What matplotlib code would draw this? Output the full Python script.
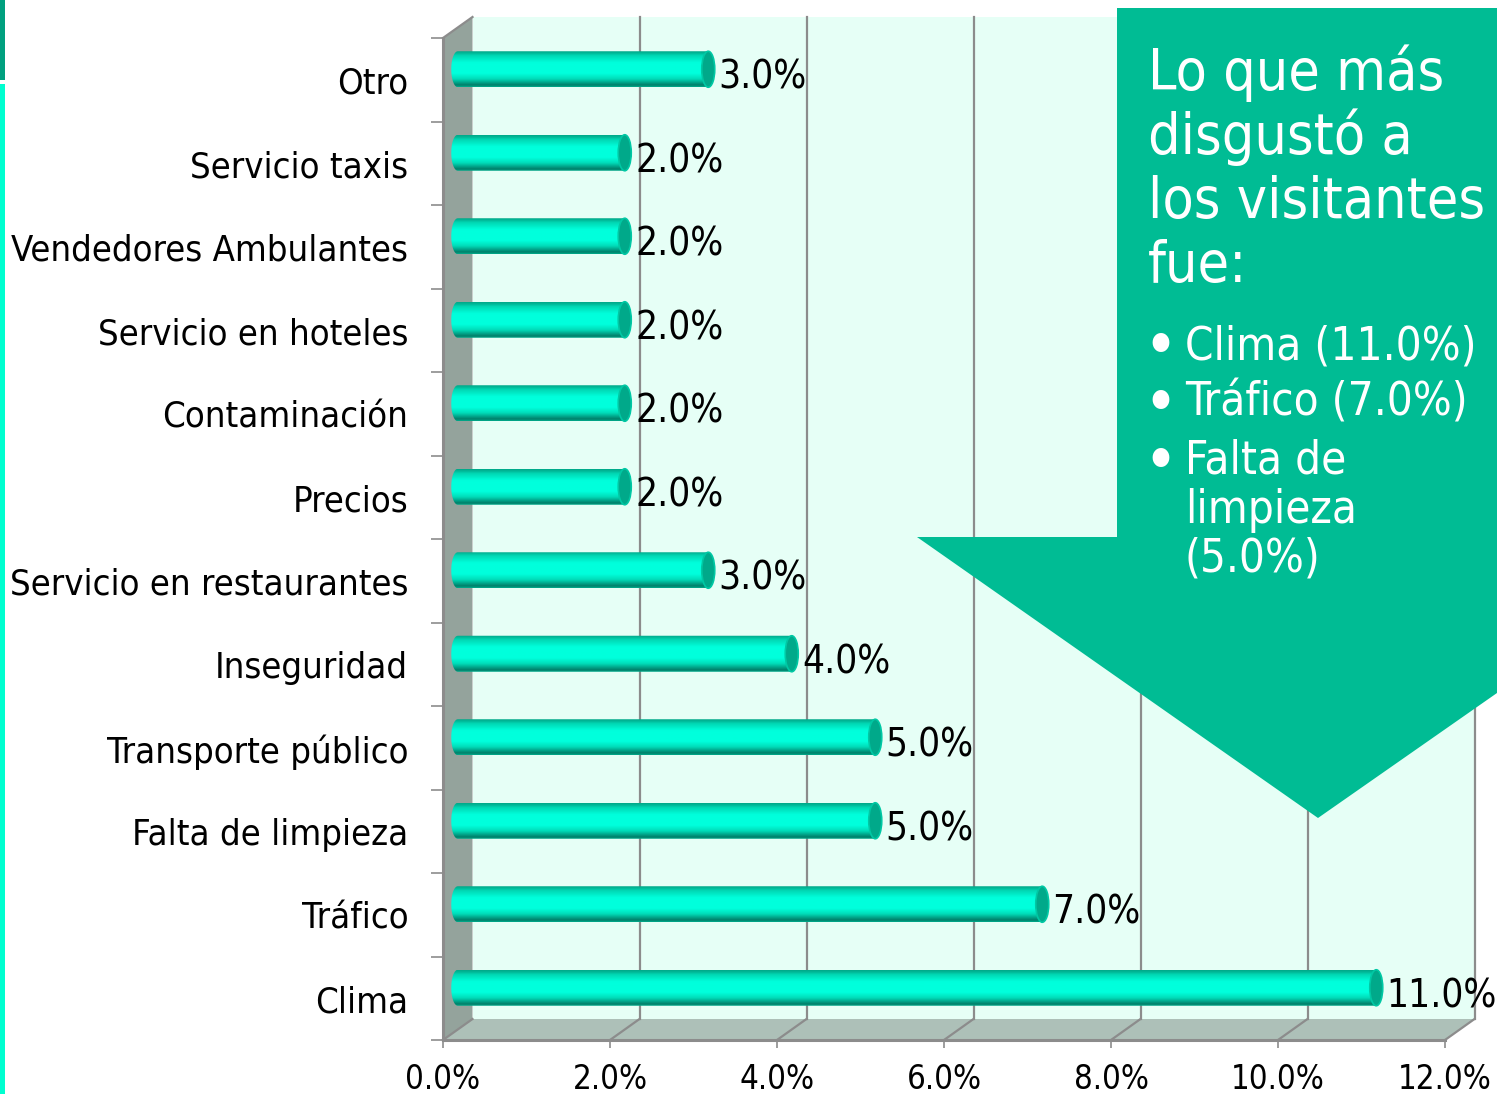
"""
Bar chart: lo que mas disgusto a los visitantes.
"""

import numpy as np
import matplotlib
matplotlib.use("Agg")
import matplotlib.pyplot as plt
from matplotlib.colors import LinearSegmentedColormap
from matplotlib.patches import Ellipse, Polygon, Rectangle
from matplotlib.transforms import Affine2D, IdentityTransform

# Data, bottom to top
categories = ["Clima", "Tráfico", "Falta de limpieza", "Transporte público", "Inseguridad",
              "Servicio en restaurantes", "Precios", "Contaminación", "Servicio en hoteles",
              "Vendedores Ambulantes", "Servicio taxis", "Otro"]
values = [11.0, 7.0, 5.0, 5.0, 4.0, 3.0, 2.0, 2.0, 2.0, 2.0, 2.0, 3.0]
x_ticks = [0, 2, 4, 6, 8, 10, 12]

callout_title = ["Lo que más", "disgustó a", "los visitantes", "fue:"]
callout_items = [["Clima (11.0%)"], ["Tráfico (7.0%)"], ["Falta de", "limpieza", "(5.0%)"]]

W, H = 1497, 1094
DEPTH_X, DEPTH_Y = 29.5, 21
FONT = {"family": "DejaVu Sans", "stretch": "condensed"}
GRID = "#8c8c8c"

fig = plt.figure(figsize=(W / 100, H / 100), dpi=100, facecolor="white")
ax = fig.add_axes([443 / W, (H - 1040) / H, 1002 / W, 1002 / H])
ax.set_xlim(0, 12)
ax.set_ylim(-0.5, 11.5)
ax.patch.set_visible(False)
for spine in ax.spines.values():
    spine.set_visible(False)


def depth(frac, dx=0, dy=0):
    # shift from the front plane towards the back wall, in pixels
    return ax.transData + Affine2D().translate(DEPTH_X * frac + dx, DEPTH_Y * frac + dy)


def px_text(x, y, s, **kw):
    fig.text(x / W, (H - y) / H, s, color="white", va="baseline", **FONT, **kw)


def to_display(x, y):
    return ax.transData.transform((x, y))


# Walls
ymin, ymax = ax.get_ylim()
ax.add_patch(Rectangle((0, ymin), 12, ymax - ymin, transform=depth(1), facecolor="#e6fff6",
                       edgecolor="none", clip_on=False, zorder=1))
left = [to_display(0, ymin), to_display(0, ymax),
        to_display(0, ymax) + (DEPTH_X, DEPTH_Y), to_display(0, ymin) + (DEPTH_X, DEPTH_Y)]
ax.add_patch(Polygon(left, transform=IdentityTransform(), facecolor="#94a39c", edgecolor="none",
                     clip_on=False, zorder=1))
floor = [to_display(0, ymin), to_display(12, ymin),
         to_display(12, ymin) + (DEPTH_X, DEPTH_Y), to_display(0, ymin) + (DEPTH_X, DEPTH_Y)]
ax.add_patch(Polygon(floor, transform=IdentityTransform(), facecolor="#adc0b8", edgecolor="none",
                     clip_on=False, zorder=1))

# Grid lines on back wall and floor
for t in x_ticks:
    if t > 0:
        ax.plot([t, t], [ymin, ymax], color=GRID, lw=1.6, transform=depth(1), clip_on=False, zorder=2)
    ax.plot([t, t + DEPTH_X * 12 / 1002], [ymin, ymin + DEPTH_Y * 12 / 1002], color=GRID, lw=1.6,
            clip_on=False, zorder=2)
ax.plot([0, 0], [ymin, ymax], color=GRID, lw=2.2, clip_on=False, zorder=2)
ax.plot([0, 12], [ymin, ymin], color=GRID, lw=2.2, clip_on=False, zorder=2)
ax.plot([0, DEPTH_X * 12 / 1002], [ymax, ymax + DEPTH_Y * 12 / 1002], color=GRID, lw=1.6,
        clip_on=False, zorder=2)

# Axis ticks and labels
ax.set_xticks(x_ticks)
ax.set_xticklabels([f"{t:.1f}%" for t in x_ticks], fontsize=23.7, **FONT)
ax.tick_params(axis="x", length=6, width=1.2, color=GRID, pad=10.5)
ax.set_yticks(np.arange(-0.5, 12, 1))
ax.set_yticklabels([])
ax.tick_params(axis="y", length=8.5, width=1.2, color=GRID)
ax.set_yticks(range(len(categories)), minor=True)
ax.set_yticklabels(categories, minor=True, fontsize=26.1, va="center", **FONT)
ax.tick_params(axis="y", which="minor", length=0, pad=25)
for lab in ax.get_yticklabels(minor=True):
    lab.set_transform(lab.get_transform() + Affine2D().translate(0, -4))

# Cylinder bars
bar_cmap = LinearSegmentedColormap.from_list("bar", [
    (0.0, "#00a98a"), (0.05, "#00b898"), (0.12, "#00d8b4"), (0.32, "#00ffdc"), (0.62, "#00ffdc"),
    (0.78, "#00dcb8"), (0.9, "#009a80"), (0.95, "#007f69"), (1.0, "#00a98a")])
gradient = np.linspace(0, 1, 64).reshape(-1, 1)
half_h = 18 / (1002 / 12)
cap_w = 6.5 * 12 / 1002
theta = np.linspace(np.pi / 2, 3 * np.pi / 2, 24)

for i, v in enumerate(values):
    tr = depth(0.5)
    left_end = np.column_stack([cap_w * np.cos(theta), i + half_h * np.sin(theta)])
    right_end = np.column_stack([v - cap_w * np.cos(theta), i - half_h * np.sin(theta)])
    outline = Polygon(np.vstack([left_end, right_end]), transform=tr, facecolor="none",
                      edgecolor="none", clip_on=False, zorder=3)
    ax.add_patch(outline)
    im = ax.imshow(gradient, cmap=bar_cmap, vmin=0, vmax=1, aspect="auto", origin="upper",
                   extent=(-cap_w, v + cap_w, i - half_h, i + half_h), transform=tr, zorder=3)
    im.set_clip_path(outline)
    ax.add_patch(Ellipse((v, i), 2 * cap_w, 2 * half_h, transform=tr, facecolor="#00a98a",
                         edgecolor="#00c8a4", lw=1.2, clip_on=False, zorder=4))
    ax.text(v, i, f"{v:.1f}%", transform=depth(0, dx=25, dy=-9), fontsize=27.8, color="black",
            ha="left", va="baseline", clip_on=False, zorder=5, **FONT)
ax.set_xlim(0, 12)
ax.set_ylim(-0.5, 11.5)

# Left strip
fig.add_artist(Rectangle((0, (H - 80) / H), 5 / W, 80 / H, transform=fig.transFigure,
                         facecolor="#00a07f", edgecolor="none"))
fig.add_artist(Rectangle((0, 0), 5 / W, (H - 84) / H, transform=fig.transFigure,
                         facecolor="#00ffd0", edgecolor="none"))

# Callout arrow
arrow = [(1117, 8), (1497, 8), (1497, 693), (1318, 818), (917, 537), (1117, 537)]
fig.add_artist(Polygon([(x / W, (H - y) / H) for x, y in arrow], transform=fig.transFigure,
                       facecolor="#00bc94", edgecolor="none", zorder=6))

baselines = [90, 154, 218, 282]
for y, line in zip(baselines, callout_title):
    px_text(1148, y, line, fontsize=41, zorder=7)

item_y = [[359], [416], [474, 523, 572]]
for ys, lines in zip(item_y, callout_items):
    px_text(1143, ys[0] + 8, "•", fontsize=46, zorder=7)
    for y, line in zip(ys, lines):
        px_text(1185, y, line, fontsize=32.8, zorder=7)

fig.savefig("out.png", dpi=100)
